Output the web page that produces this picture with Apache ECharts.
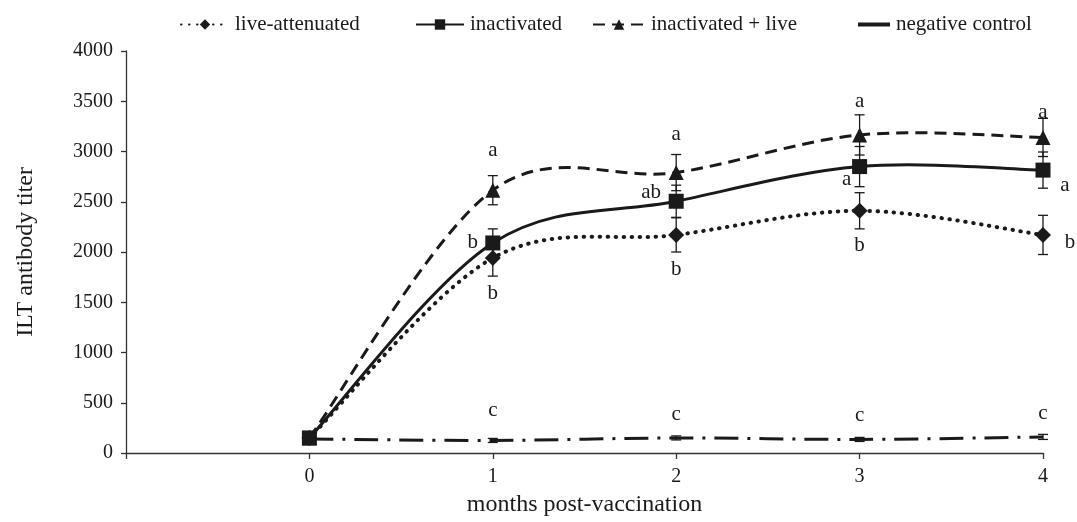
<!DOCTYPE html>
<html>
<head>
<meta charset="utf-8">
<script src="https://cdn.jsdelivr.net/npm/echarts@6/dist/echarts.min.js"></script>
<style>
html,body{margin:0;padding:0;background:#fff;}
#chart{width:1077px;height:522px;}
</style>
</head>
<body>
<div id="chart"></div>
<script>
// ---- data ----
const months = [0, 1, 2, 3, 4];
const seriesNames = ['live-attenuated', 'inactivated', 'inactivated + live', 'negative control'];
const liveVals = [150, 1940, 2170, 2410, 2170];
const liveErr = [0, 180, 170, 180, 195];
const inactVals = [150, 2090, 2505, 2850, 2815];
const inactErr = [0, 140, 160, 200, 180];
const comboVals = [150, 2615, 2790, 3165, 3140];
const comboErr = [0, 145, 180, 200, 190];
const negVals = [140, 125, 150, 135, 160];
const negErr = [0, 20, 20, 20, 25];
const liveLetters = ['', 'b', 'b', 'b', 'b'];
const inactLetters = ['', 'b', 'ab', 'a', 'a'];
const comboLetters = ['', 'a', 'a', 'a', 'a'];
const negLetters = ['', 'c', 'c', 'c', 'c'];
const yTicks = [0, 500, 1000, 1500, 2000, 2500, 3000, 3500, 4000];
const xTickLabels = ['0', '1', '2', '3', '4'];

// ---- styles ----
const INK = '#1a1a1a';
const FONT = 'Liberation Serif';
// pixel offsets of letters relative to the point (style only)
const liveOff = [[0,0],[0,35],[0,35],[0,35],[27,8]];
const inactOff = [[0,0],[-20,0],[-25,-9],[-13,13],[22,15]];
const comboOff = [[0,0],[0,-40],[0,-38],[0,-33],[0,-25]];
const negOff = [[0,0],[0,-30],[0,-23],[0,-24],[0,-23]];

const lineStyles = [
  { dash: [0.5, 7.5], cap: 'round', width: 4 },
  { dash: null, cap: 'butt', width: 3 },
  { dash: [12, 7], cap: 'butt', width: 3 },
  { dash: [24, 9, 3, 9], cap: 'butt', width: 3 }
];

function pairs(vals, errs) { return vals.map((v, i) => [months[i], v, errs ? errs[i] : 0]); }

// smooth curve (Catmull-Rom bezier, like spreadsheet smoothing) drawn through axis coords
function curveSeries(vals, ls) {
  return {
    type: 'custom', silent: true, z: 3,
    data: pairs(vals),
    encode: { x: 0, y: 1 },
    renderItem: function (params, api) {
      if (params.dataIndex !== 0) return null;
      const P = vals.map((v, i) => api.coord([months[i], v]));
      const n = P.length;
      let d = 'M' + P[0][0] + ' ' + P[0][1];
      for (let i = 0; i < n - 1; i++) {
        const p0 = P[Math.max(i - 1, 0)], p1 = P[i], p2 = P[i + 1], p3 = P[Math.min(i + 2, n - 1)];
        const c1 = [p1[0] + (p2[0] - p0[0]) / 6, p1[1] + (p2[1] - p0[1]) / 6];
        const c2 = [p2[0] - (p3[0] - p1[0]) / 6, p2[1] - (p3[1] - p1[1]) / 6];
        d += ' C' + c1[0] + ' ' + c1[1] + ' ' + c2[0] + ' ' + c2[1] + ' ' + p2[0] + ' ' + p2[1];
      }
      return { type: 'path', shape: { pathData: d },
        style: { fill: 'none', stroke: INK, lineWidth: ls.width, lineDash: ls.dash, lineCap: ls.cap, lineJoin: 'round' } };
    }
  };
}

function errSeries(vals, errs) {
  return {
    type: 'custom', silent: true, z: 4,
    data: pairs(vals, errs),
    encode: { x: 0, y: 1 },
    renderItem: function (params, api) {
      const x = api.value(0), y = api.value(1), e = api.value(2);
      if (!e) return null;
      const t = api.coord([x, y + e]), b = api.coord([x, y - e]);
      const hw = 5;
      const st = { stroke: INK, lineWidth: 1.3 };
      return { type: 'group', children: [
        { type: 'line', shape: { x1: t[0], y1: t[1], x2: b[0], y2: b[1] }, style: st },
        { type: 'line', shape: { x1: t[0]-hw, y1: t[1], x2: t[0]+hw, y2: t[1] }, style: st },
        { type: 'line', shape: { x1: b[0]-hw, y1: b[1], x2: b[0]+hw, y2: b[1] }, style: st }
      ]};
    }
  };
}

function letterSeries(vals, letters, offs) {
  return {
    type: 'custom', silent: true, z: 6,
    data: pairs(vals),
    encode: { x: 0, y: 1 },
    renderItem: function (params, api) {
      const i = params.dataIndex;
      const txt = letters[i];
      if (!txt) return null;
      const p = api.coord([api.value(0), api.value(1)]);
      return { type: 'text', x: p[0] + offs[i][0], y: p[1] + offs[i][1],
        style: { text: txt, fill: INK, font: '21px "' + FONT + '"', align: 'center', verticalAlign: 'middle' } };
    }
  };
}

// marker series (line itself hidden; drawn by curveSeries); used for legend
function markerSeries(name, vals, symbol, size, ls) {
  return {
    type: 'line', name: name, data: pairs(vals).map(d => [d[0], d[1]]),
    symbol: symbol, symbolSize: size, showSymbol: symbol !== 'none',
    itemStyle: { color: INK, borderWidth: 0 },
    lineStyle: { color: INK, width: ls.width, type: ls.dash || 'solid', cap: ls.cap, opacity: 0 },
    z: 5, animation: false
  };
}

const chart = echarts.init(document.getElementById('chart'), null, { renderer: 'canvas' });

function legendAt(item, left, w, h) {
  return {
    data: [item], left: left, top: 9, itemWidth: w, itemHeight: h || 13, itemGap: 0,
    lineStyle: { opacity: 1 },
    textStyle: { fontFamily: FONT, fontSize: 21, color: INK, padding: [0, 0, 0, 1] },
    selectedMode: false
  };
}

chart.setOption({
  animation: false,
  backgroundColor: '#ffffff',
  legend: [
    legendAt(seriesNames[0], 175, 48),
    legendAt(seriesNames[1], 410, 48),
    legendAt(seriesNames[2], 587, 52),
    legendAt({ name: seriesNames[3], icon: 'rect' }, 853, 32, 4)
  ],
  grid: { left: 126, right: 34, top: 51, bottom: 66 },
  xAxis: {
    type: 'value', min: -1, max: 4, interval: 1,
    name: 'months post-vaccination', nameLocation: 'middle', nameGap: 40,
    nameTextStyle: { fontFamily: FONT, fontSize: 24, color: INK },
    axisLine: { show: true, onZero: false, lineStyle: { color: '#333', width: 1.3 } },
    axisTick: { show: true, inside: false, length: 6, lineStyle: { color: '#333', width: 1.3 } },
    axisLabel: { margin: 14, fontFamily: FONT, fontSize: 20, color: INK,
      formatter: v => (v < 0 ? '' : xTickLabels[months.indexOf(v)]) },
    splitLine: { show: false }
  },
  yAxis: {
    type: 'value', min: yTicks[0], max: yTicks[yTicks.length - 1], interval: yTicks[1] - yTicks[0],
    name: 'ILT antibody titer', nameLocation: 'middle', nameGap: 88, nameRotate: 90,
    nameTextStyle: { fontFamily: FONT, fontSize: 24, color: INK },
    axisLine: { show: true, onZero: false, lineStyle: { color: '#333', width: 1.3 } },
    axisTick: { show: true, inside: false, length: 5, lineStyle: { color: '#333', width: 1.3 } },
    axisLabel: { margin: 13, fontFamily: FONT, fontSize: 20, color: INK, formatter: v => String(v) },
    splitLine: { show: false }
  },
  series: [
    markerSeries(seriesNames[0], liveVals, 'diamond', 16, lineStyles[0]),
    markerSeries(seriesNames[1], inactVals, 'rect', 15, lineStyles[1]),
    markerSeries(seriesNames[2], comboVals, 'triangle', 15, lineStyles[2]),
    markerSeries(seriesNames[3], negVals, 'none', 0, lineStyles[3]),
    curveSeries(liveVals, lineStyles[0]),
    curveSeries(inactVals, lineStyles[1]),
    curveSeries(comboVals, lineStyles[2]),
    curveSeries(negVals, lineStyles[3]),
    errSeries(liveVals, liveErr),
    errSeries(inactVals, inactErr),
    errSeries(comboVals, comboErr),
    errSeries(negVals, negErr),
    letterSeries(liveVals, liveLetters, liveOff),
    letterSeries(inactVals, inactLetters, inactOff),
    letterSeries(comboVals, comboLetters, comboOff),
    letterSeries(negVals, negLetters, negOff)
  ]
});
</script>
</body>
</html>
